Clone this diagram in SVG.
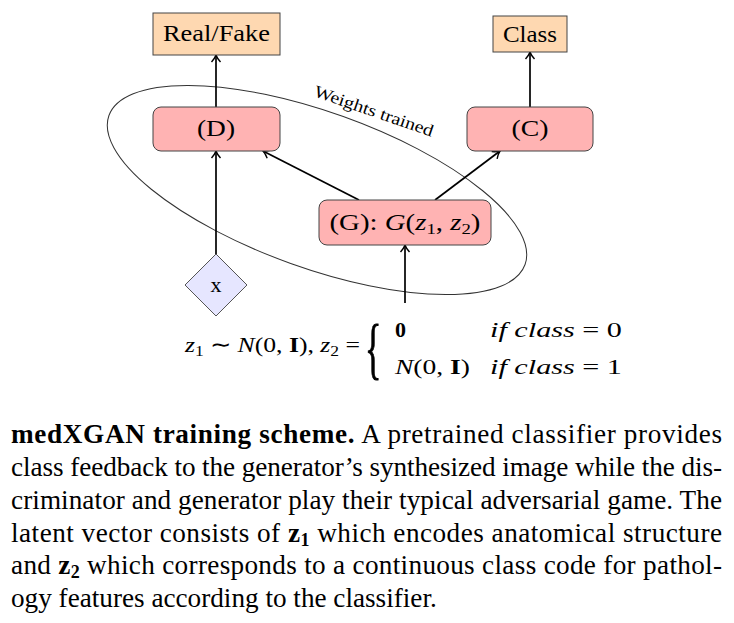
<svg xmlns="http://www.w3.org/2000/svg" width="734" height="623" viewBox="0 0 734 623">
<defs>
<style>
.t{font-family:"Liberation Serif","Times New Roman",serif;fill:#000}
.out{fill:#fed8b1;stroke:#444;stroke-width:1}
.net{fill:#ffb3b3;stroke:#444;stroke-width:1}
.inp{fill:#e6e6ff;stroke:#555;stroke-width:1}
.ar{fill:none;stroke:#000;stroke-width:1.7;marker-end:url(#ah)}
.cap{font-size:27.2px}
.it{font-style:italic}
.b{font-weight:bold}
</style>
<marker id="ah" viewBox="-10 -6 12 12" refX="0" refY="0" markerWidth="12" markerHeight="12" markerUnits="userSpaceOnUse" orient="auto">
<path d="M-7,-4.5 Q-3,-1 0,0 Q-3,1 -7,4.5" fill="none" stroke="#000" stroke-width="1.4"/>
</marker>
</defs>
<rect width="734" height="623" fill="#fff"/>

<g id="weights-ellipse">
<ellipse cx="317" cy="190" rx="221" ry="78" transform="rotate(19.7 317 190)" fill="none" stroke="#333" stroke-width="1"/>
<text class="t" x="0" y="0" font-size="17" textLength="125" lengthAdjust="spacingAndGlyphs" transform="translate(313 96) rotate(19)">Weights trained</text>
</g>

<g id="connectors">
<line class="ar" x1="216" y1="107" x2="216" y2="55"/>
<line class="ar" x1="530" y1="107" x2="530" y2="52"/>
<line class="ar" x1="359" y1="200" x2="263" y2="151"/>
<line class="ar" x1="435" y1="200" x2="500" y2="151"/>
<line class="ar" x1="216" y1="254" x2="216" y2="151"/>
<line class="ar" x1="405" y1="303" x2="405" y2="245"/>
</g>

<g id="realfake">
<rect class="out" x="153" y="13" width="127" height="42"/>
<text class="t" x="216.5" y="41" font-size="23" text-anchor="middle" textLength="107" lengthAdjust="spacingAndGlyphs">Real/Fake</text>
</g>
<g id="class">
<rect class="out" x="493" y="16" width="74" height="36"/>
<text class="t" x="530" y="42" font-size="23" text-anchor="middle" textLength="54" lengthAdjust="spacingAndGlyphs">Class</text>
</g>
<g id="D">
<rect class="net" x="153" y="107" width="127" height="44" rx="8"/>
<text class="t" x="216" y="136" font-size="23" text-anchor="middle" textLength="38" lengthAdjust="spacingAndGlyphs">(D)</text>
</g>
<g id="C">
<rect class="net" x="467" y="107" width="126" height="44" rx="8"/>
<text class="t" x="530" y="136" font-size="23" text-anchor="middle" textLength="37" lengthAdjust="spacingAndGlyphs">(C)</text>
</g>
<g id="G">
<rect class="net" x="319" y="200" width="172" height="45" rx="8"/>
<text class="t" x="405" y="230" font-size="23" text-anchor="middle" textLength="151" lengthAdjust="spacingAndGlyphs">(G): <tspan class="it">G</tspan>(<tspan class="it">z</tspan><tspan font-size="15" dy="4">1</tspan><tspan dy="-4">, </tspan><tspan class="it">z</tspan><tspan font-size="15" dy="4">2</tspan><tspan dy="-4">)</tspan></text>
</g>
<g id="x">
<polygon class="inp" points="216,254 247,285 216,316 185,285"/>
<text class="t" x="216" y="292" font-size="22" text-anchor="middle">x</text>
</g>

<g id="formula">
<text class="t" x="185" y="352" font-size="22" textLength="175" lengthAdjust="spacingAndGlyphs"><tspan class="it">z</tspan><tspan font-size="15" dy="4">1</tspan><tspan dy="-4"> ∼ </tspan><tspan class="it">N</tspan>(0, <tspan class="b">I</tspan>), <tspan class="it">z</tspan><tspan font-size="15" dy="4">2</tspan><tspan dy="-4"> =</tspan></text>
<text class="t" x="0" y="0" font-size="68" stroke="#000" stroke-width="1" transform="translate(365 371) scale(0.5 1)">{</text>
<text class="t b" x="395" y="337" font-size="22">0</text>
<text class="t" x="395" y="374" font-size="22" textLength="75" lengthAdjust="spacingAndGlyphs"><tspan class="it">N</tspan>(0, <tspan class="b">I</tspan>)</text>
<text class="t" x="490" y="337" font-size="22" textLength="132" lengthAdjust="spacingAndGlyphs"><tspan class="it">if class</tspan> = 0</text>
<text class="t" x="490" y="374" font-size="22" textLength="132" lengthAdjust="spacingAndGlyphs"><tspan class="it">if class</tspan> = 1</text>
</g>

<g id="caption" class="t cap">
<text x="11" y="443" textLength="711" lengthAdjust="spacing"><tspan class="b">medXGAN training scheme.</tspan>  A pretrained classifier provides</text>
<text x="11" y="476" textLength="711" lengthAdjust="spacing">class feedback to the generator’s synthesized image while the dis-</text>
<text x="11" y="509" textLength="711" lengthAdjust="spacing">criminator and generator play their typical adversarial game. The</text>
<text x="11" y="542" textLength="711" lengthAdjust="spacing">latent vector consists of <tspan class="b">z</tspan><tspan class="b" font-size="18" dy="4">1</tspan><tspan dy="-4"> which encodes anatomical structure</tspan></text>
<text x="11" y="574" textLength="711" lengthAdjust="spacing">and <tspan class="b">z</tspan><tspan class="b" font-size="18" dy="4">2</tspan><tspan dy="-4"> which corresponds to a continuous class code for pathol-</tspan></text>
<text x="11" y="607">ogy features according to the classifier.</text>
</g>
</svg>
